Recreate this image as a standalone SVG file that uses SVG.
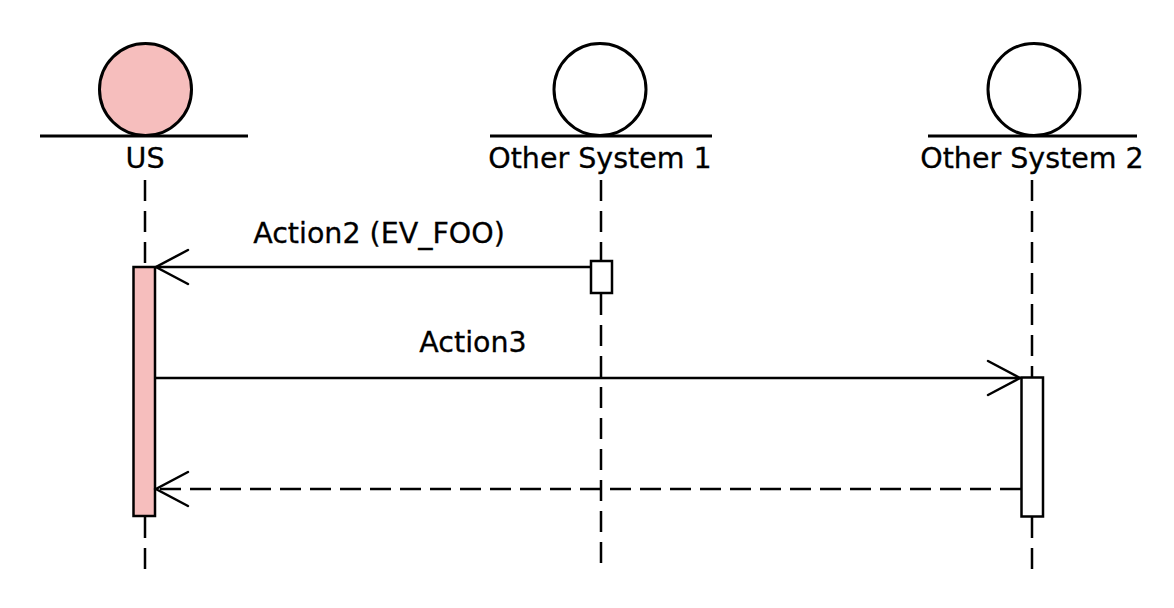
<svg xmlns="http://www.w3.org/2000/svg" width="1174" height="608" viewBox="0 0 1174 608">
  <style>
    .head { stroke: #000; stroke-width: 3; }
    .base { stroke: #000; stroke-width: 3; }
    .lifeline { stroke: #000; stroke-width: 2.5; stroke-dasharray: 21 10; fill: none; }
    .act { stroke: #000; stroke-width: 2.5; }
    .msg { stroke: #000; stroke-width: 2.5; fill: none; }
    .ret { stroke-dasharray: 21 9; }
    .head-open { stroke: #000; stroke-width: 2.5; fill: none; stroke-linecap: round; }
    .lbl { font-family: "DejaVu Sans", "Liberation Sans", sans-serif; font-size: 28.5px; fill: #000; stroke: #000; stroke-width: 0.3; text-anchor: middle; }
    .us { fill: #f6bebd; }
    .other { fill: #fff; }
  </style>

  <rect width="1174" height="608" fill="#fff"/>

  <!-- lifelines, split around activation bars -->
  <g id="lifelines">
    <line class="lifeline" x1="145" y1="180" x2="145" y2="267"/>
    <line class="lifeline" x1="145" y1="517" x2="145" y2="569"/>
    <line class="lifeline" x1="601" y1="180" x2="601" y2="261"/>
    <line class="lifeline" x1="601" y1="294" x2="601" y2="569"/>
    <line class="lifeline" x1="1032" y1="180" x2="1032" y2="377"/>
    <line class="lifeline" x1="1032" y1="517" x2="1032" y2="569"/>
  </g>

  <g id="us">
    <circle class="head us" cx="145.5" cy="89.5" r="46"/>
    <line class="base" x1="40" y1="136" x2="248" y2="136"/>
    <text class="lbl" x="145" y="168">US</text>
    <rect class="act us" x="133.5" y="267" width="21.5" height="249"/>
  </g>

  <g id="other-system-1">
    <circle class="head other" cx="600" cy="89.5" r="46"/>
    <line class="base" x1="490" y1="136" x2="712" y2="136"/>
    <text class="lbl" x="600" y="168">Other System 1</text>
    <rect class="act other" x="591" y="261" width="21" height="32"/>
  </g>

  <g id="other-system-2">
    <circle class="head other" cx="1034" cy="89.5" r="46"/>
    <line class="base" x1="928" y1="136" x2="1137" y2="136"/>
    <text class="lbl" x="1032" y="168">Other System 2</text>
    <rect class="act other" x="1021.5" y="377.5" width="21.5" height="139"/>
  </g>

  <!-- messages -->
  <g id="connectors">
    <line class="msg" x1="591" y1="267" x2="156" y2="267"/>
    <polyline class="head-open" points="188,250 156,267 188,284"/>
    <text class="lbl" x="379" y="243">Action2 (EV_FOO)</text>

    <line class="msg" x1="155" y1="378" x2="1020" y2="378"/>
    <polyline class="head-open" points="988,361 1020,378 988,395"/>
    <text class="lbl" x="473" y="352">Action3</text>

    <line class="msg ret" x1="1021" y1="489" x2="156" y2="489"/>
    <polyline class="head-open" points="188,472 156,489 188,506"/>
  </g>
</svg>
